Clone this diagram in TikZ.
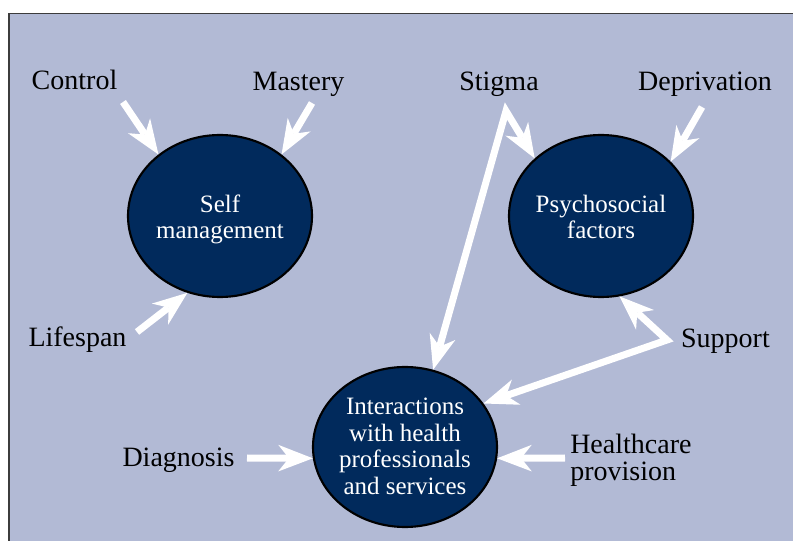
\documentclass[tikz,border=0pt]{standalone}
\usepackage{fontspec}
\setmainfont{Liberation Serif}
\usetikzlibrary{arrows.meta,shapes.geometric}
\definecolor{panel}{RGB}{178,186,213}
\definecolor{navy}{RGB}{1,42,92}
\definecolor{framegray}{RGB}{60,60,60}
\begin{document}
\begin{tikzpicture}[x=0.75pt,y=-0.75pt,
  >={Stealth[length=26pt,width=20pt,inset=8pt,line width=0pt]},
  word/.style={font=\fontsize{21pt}{20.25pt}\selectfont, inner sep=0pt, anchor=base, text=black},
  blob/.style={ellipse, draw=black, line width=1.6pt, fill=navy,
    minimum width=138pt, minimum height=121.5pt, inner sep=0pt},
  blobtext/.style={font=\fontsize{18.75pt}{19.9pt}\selectfont, text=white,
    align=center, inner sep=0pt},
  flow/.style={draw=white, line width=5.25pt, line join=miter}]

% page and panel
\useasboundingbox (0,0) rectangle (793,541);
\fill[white] (0,0) rectangle (793,541);
\fill[panel] (9,13.5) rectangle (793,541);
\draw[framegray, line width=1pt] (9,541) -- (9,13.5) -- (793,13.5);

% the three main factors
\node[blob] (self) at (220,216) {};
\node[blob] (psy) at (601,216) {};
\node[blob, minimum height=120pt] (inter) at (405,447) {};
\node[blobtext] (selftext) at (220,219.5) {Self\\management};
\node[blobtext] (psytext) at (601,217) {Psychosocial\\factors};
\node[blobtext] (intertext) at (405,446.5) {Interactions\\with health\\professionals\\and services};

% influences
\node[word] (control) at (74.5,90) {Control};
\node[word] (mastery) at (298.5,91) {Mastery};
\node[word] (stigma) at (499,91) {Stigma};
\node[word] (deprivation) at (705,91) {Deprivation};
\node[word] (lifespan) at (77.5,347) {Lifespan};
\node[word] (support) at (725.5,348) {Support};
\node[word] (diagnosis) at (178.5,467) {Diagnosis};
\node[word, align=left, anchor=west] (healthcare) at (570,460) {Healthcare\\provision};

% arrows
\draw[flow,->] ([shift={(48.5,12)}]control.base) -- (self.135);
\draw[flow,->] ([shift={(13.5,12)}]mastery.base) -- (self.45);
\draw[flow,->] ([shift={(59.5,-15)}]lifespan.base) -- (self.247);
\draw[flow,<->] (inter.70) -- ([shift={(7,20)}]stigma.base) -- (psy.139);
\draw[flow,->] ([shift={(-3,16)}]deprivation.base) -- (psy.38);
\draw[flow,<->] (psy.283) -- ([shift={(-58.5,-8)}]support.base) -- (inter.29);
\draw[flow,->] ([shift={(68.5,-9)}]diagnosis.base) -- (inter.187);
\draw[flow,->] ([shift={(-5,-2)}]healthcare.west) -- (inter.353);
\end{tikzpicture}
\end{document}
